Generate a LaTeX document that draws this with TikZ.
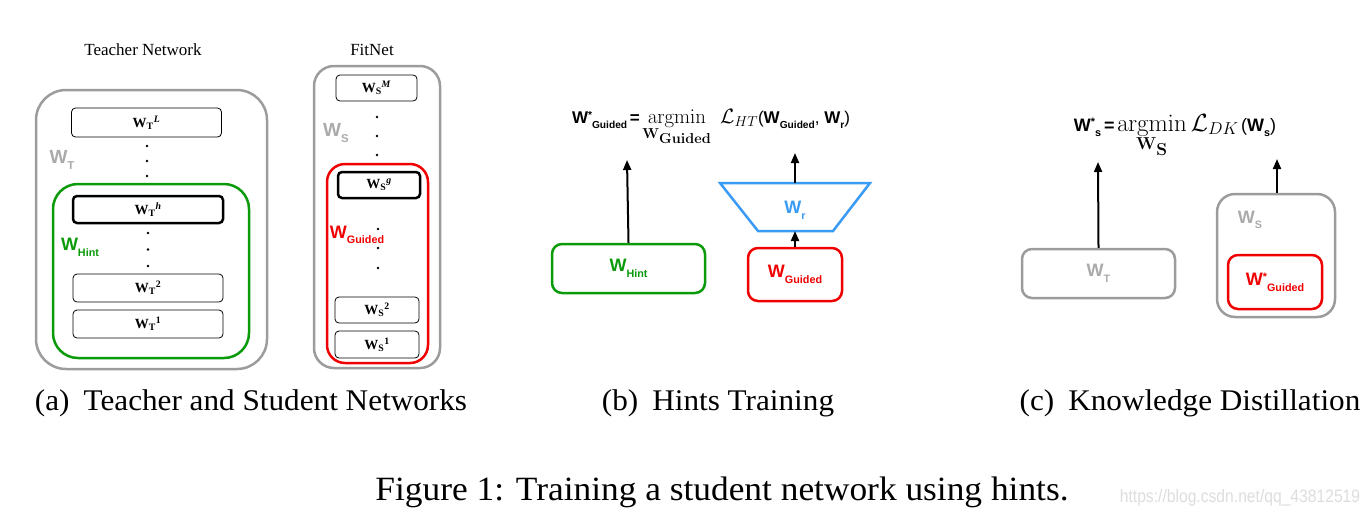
\documentclass[tikz,border=0pt]{standalone}
\usepackage[no-math]{fontspec}
\setmainfont{Liberation Serif}
\setsansfont{Liberation Sans}
\usetikzlibrary{arrows.meta}
\definecolor{netgray}{HTML}{9C9C9C}
\definecolor{labgray}{HTML}{AAAAAA}
\definecolor{hintgreen}{HTML}{0A9A0A}
\definecolor{guidedred}{HTML}{F00000}
\definecolor{regblue}{HTML}{3A9BF5}
\definecolor{markgray}{HTML}{DDDDDD}
\newcommand\wsans[2][]{{\sffamily\bfseries W\raisebox{0.55ex}{\scalebox{0.6}{#1}}\raisebox{-0.6ex}{\scalebox{0.6}{#2}}}}
\newcommand\wlayer[2]{\textbf{W\textsubscript{#1}\textsuperscript{#2}}}
\newcommand\px[1]{\fontsize{#1}{#1}\selectfont}

\begin{document}
\begin{tikzpicture}[x=1pt,y=-1pt,
  layer/.style={draw, rounded corners=4pt, line width=0.8pt, inner sep=0pt, font=\px{14}},
  hintlayer/.style={layer, line width=2.5pt},
  net/.style={draw=netgray, line width=2.5pt, inner sep=0pt},
  hint/.style={draw=hintgreen, line width=2.5pt, inner sep=0pt},
  guided/.style={draw=guidedred, line width=2.5pt, inner sep=0pt},
  arr/.style={-{Triangle[length=10pt,width=8pt]}, line width=2pt},
  dotmark/.style={circle, fill=black, inner sep=0pt, minimum size=2.6pt},
  captext/.style={anchor=base, font=\px{30}}]
  \useasboundingbox (0,0) rectangle (1372,517);

  %%%%% (a) teacher %%%%%
  \node[font=\px{17}] (tname) at (143,50) {Teacher Network};
  \node[net, rounded corners=30pt, minimum width=231pt, minimum height=279pt] (tnet) at (151.5,229.5) {};
  \node[layer, minimum width=150pt, minimum height=29pt] (tL) at (146.5,122.5) {\wlayer{T}{\textit{L}}};
  \foreach \y in {146,161,176} \node[dotmark] at (147,\y) {};
  \node[hint, rounded corners=25pt, minimum width=196pt, minimum height=174pt] (thint) at (151,271) {};
  \node[hintlayer, minimum width=150pt, minimum height=27pt] (th) at (148,209.5) {\wlayer{T}{\textit{h}}};
  \foreach \y in {233,249.5,266} \node[dotmark] at (148,\y) {};
  \node[layer, minimum width=150pt, minimum height=28pt] (t2) at (148,288) {\wlayer{T}{2}};
  \node[layer, minimum width=150pt, minimum height=28pt] (t1) at (148,324) {\wlayer{T}{1}};
  \node[text=labgray, font=\px{19}] (tlab) at (62,160) {\wsans{T}};
  \node[text=hintgreen, font=\px{18}] (hlab) at (80,247) {\wsans{Hint}};

  %%%%% (a) fitnet %%%%%
  \node[font=\px{17}] (sname) at (372,50) {FitNet};
  \node[net, rounded corners=20pt, minimum width=126pt, minimum height=302pt] (snet) at (377,217) {};
  \node[layer, minimum width=81pt, minimum height=26pt] (sM) at (376.5,88) {\wlayer{S}{\textit{M}}};
  \foreach \y in {117,136,155} \node[dotmark] at (377,\y) {};
  \node[text=labgray, font=\px{19}] (slab) at (336,133) {\wsans{S}};
  \node[guided, rounded corners=18pt, minimum width=101pt, minimum height=199pt] (sguid) at (377.5,263.5) {};
  \node[hintlayer, minimum width=82pt, minimum height=26pt] (sg) at (379,185) {\wlayer{S}{\textit{g}}};
  \foreach \y in {229,248,268} \node[dotmark] at (378,\y) {};
  \node[text=guidedred, font=\px{18}] (glab) at (357,235) {\wsans{Guided}};
  \node[layer, minimum width=84pt, minimum height=26pt] (s2) at (377,310) {\wlayer{S}{2}};
  \node[layer, minimum width=84pt, minimum height=27pt] (s1) at (377,344.5) {\wlayer{S}{1}};

  %%%%% (b) hints training %%%%%
  \node[anchor=base] (lossb) at (711,123) {{\px{17}\wsans[*]{Guided}\,\textsf{\textbf{=}}}\ {\px{22}$\mathop{\mathrm{argmin}}\limits_{\mathbf{W}_{\scriptstyle\mathbf{Guided}}}\ \mathcal{L}_{HT}$}{\px{17}\sffamily(\wsans{Guided}, \wsans{r})}};
  \node[hint, rounded corners=10pt, minimum width=153pt, minimum height=49pt, text=hintgreen, font=\px{18}] (hintb) at (628.5,268.5) {\wsans{Hint}};
  \node[guided, rounded corners=10pt, minimum width=94pt, minimum height=53pt, text=guidedred, font=\px{18}] (guidb) at (795,274.5) {\wsans{Guided}};
  \draw[draw=regblue, line width=2.5pt] (720,183) -- (870,183) -- (833,231) -- (758,231) -- cycle;
  \coordinate (regtop) at (795,183);
  \coordinate (regbot) at (795,231);
  \node[text=regblue, font=\px{18}] (rlab) at (795,210) {\wsans{r}};
  \coordinate (hintend) at (627,160);
  \coordinate (regend) at (795,153);
  \draw[arr] (hintb.north) -- (hintend);
  \draw[arr] (regtop) -- (regend);
  \draw[arr] (guidb.north) -- (regbot);

  %%%%% (c) knowledge distillation %%%%%
  \node[anchor=base] (lossc) at (1175,131) {{\px{18}\wsans[*]{s}\,\textsf{\textbf{=}}}\ {\px{23}$\mathop{\mathrm{argmin}}\limits_{\mathbf{W}_{\scriptstyle\mathbf{S}}}\mathcal{L}_{DK}$}\ {\px{18}\sffamily(\wsans{s})}};
  \node[net, rounded corners=10pt, minimum width=153pt, minimum height=49pt, text=labgray, font=\px{18}] (tc) at (1098.5,273.5) {\wsans{T}};
  \node[net, rounded corners=18pt, minimum width=118pt, minimum height=123pt] (sc) at (1276,255.5) {};
  \node[text=labgray, font=\px{18}] (sclab) at (1250,220) {\wsans{S}};
  \node[guided, rounded corners=10pt, minimum width=94pt, minimum height=54pt, text=guidedred, font=\px{18}] (gc) at (1275,282) {\wsans[*]{Guided}};
  \coordinate (tcend) at (1098,162);
  \coordinate (scend) at (1277,159);
  \draw[arr] (tc.north) -- (tcend);
  \draw[arr] (sc.north -| scend) -- (scend);

  %%%%% captions %%%%%
  \node[captext] (capa) at (251,410) {\scalebox{1.04}[1]{(a)\hspace{0.45em}Teacher and Student Networks}};
  \node[captext] (capb) at (718,410) {\scalebox{1.04}[1]{(b)\hspace{0.45em}Hints Training}};
  \node[captext] (capc) at (1190,410) {\scalebox{1.04}[1]{(c)\hspace{0.45em}Knowledge Distillation}};
  \node[captext, font=\px{34}] (fig) at (722,500) {\scalebox{1.04}[1]{Figure 1: Training a student network using hints.}};
  \node[anchor=base, text=markgray, font=\px{18}\sffamily] (mark) at (1240,502) {\scalebox{0.87}[1]{https://blog.csdn.net/qq\_43812519}};
\end{tikzpicture}
\end{document}
